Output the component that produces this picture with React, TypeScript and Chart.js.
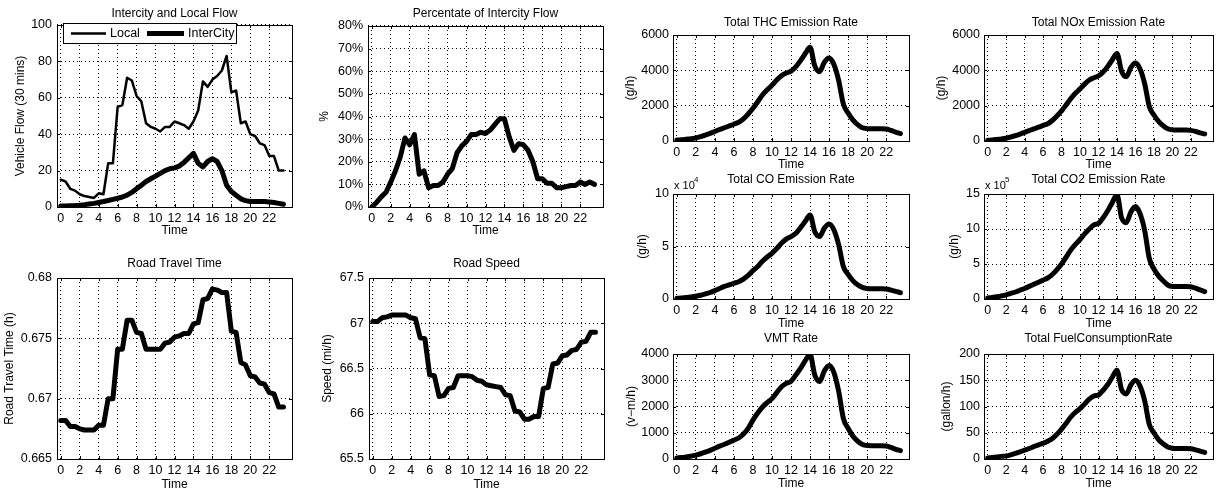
import React, { useEffect, useRef } from 'react';
import { Chart, registerables } from 'chart.js';

Chart.register(...registerables);

const FONT = '"Liberation Sans", Arial, Helvetica, sans-serif';

// ---------- data ----------
const hours = [0, 0.5, 1, 1.5, 2, 2.5, 3, 3.5, 4, 4.5, 5, 5.5, 6, 6.5, 7, 7.5, 8, 8.5, 9, 9.5, 10, 10.5, 11, 11.5, 12, 12.5, 13, 13.5, 14, 14.5, 15, 15.5, 16, 16.5, 17, 17.5, 18, 18.5, 19, 19.5, 20, 20.5, 21, 21.5, 22, 22.5, 23, 23.5];
const xTickValues = [0, 2, 4, 6, 8, 10, 12, 14, 16, 18, 20, 22];

const localFlow = [15, 14, 10, 9, 7, 6, 5.5, 5, 7.5, 7, 24, 24, 55, 56, 71, 69.5, 61, 58, 46, 44, 43, 41.5, 44, 44, 47, 46, 45, 43, 47, 53, 69, 66, 70, 72, 75, 83, 63, 64, 46, 47, 40, 39, 35, 34, 28, 28, 20, 20];
const intercityFlow = [0.5, 0.5, 0.7, 0.8, 1, 1.3, 1.7, 2, 2.5, 3, 3.6, 4.2, 4.8, 5.5, 6.5, 8, 10, 12, 14, 15.5, 17, 18.5, 20, 21, 21.5, 22.5, 24.5, 27, 29.5, 24, 22, 25, 26.5, 25, 20, 12, 8.5, 6.5, 4.5, 3.5, 3, 3, 3, 3, 2.8, 2.5, 2, 1.5];
const intercityPct = [0, 2, 4.5, 6.5, 11, 16, 22, 30.5, 27.5, 32, 14.5, 16, 8.5, 9.5, 9.5, 11, 14.5, 17, 24, 27, 29, 32, 32, 33, 32.5, 34, 36.5, 39, 39, 31, 25, 28, 27.5, 25, 20, 12.5, 12.5, 10.5, 10.5, 8.5, 8.5, 9, 9.5, 9.5, 11, 10, 11, 10];
const travelTime = [0.6682, 0.6682, 0.6677, 0.6677, 0.6675, 0.6674, 0.6674, 0.6674, 0.6678, 0.6678, 0.67, 0.67, 0.6741, 0.6741, 0.6765, 0.6765, 0.6755, 0.6754, 0.6741, 0.6741, 0.6741, 0.6741, 0.6746, 0.6747, 0.6751, 0.6752, 0.6754, 0.6754, 0.6762, 0.6763, 0.6782, 0.6783, 0.6791, 0.679, 0.6788, 0.6788, 0.6756, 0.6755, 0.673, 0.6728, 0.6719, 0.6718, 0.6713, 0.6712, 0.6705, 0.6704, 0.6693, 0.6693];
const roadSpeed = [67.02, 67.02, 67.06, 67.07, 67.09, 67.09, 67.09, 67.09, 67.06, 67.05, 66.84, 66.83, 66.43, 66.42, 66.19, 66.2, 66.28, 66.29, 66.42, 66.42, 66.42, 66.41, 66.37, 66.36, 66.32, 66.31, 66.3, 66.29, 66.21, 66.2, 66.03, 66.02, 65.94, 65.94, 65.97, 65.97, 66.28, 66.29, 66.55, 66.56, 66.64, 66.65, 66.7, 66.71, 66.79, 66.8, 66.9, 66.9];
const thcRate = [50, 70, 100, 130, 180, 250, 330, 430, 540, 650, 750, 850, 950, 1060, 1250, 1530, 1850, 2220, 2600, 2900, 3150, 3450, 3700, 3850, 3950, 4200, 4550, 4950, 5300, 4250, 3920, 4450, 4700, 4350, 3450, 2100, 1580, 1200, 930, 750, 700, 690, 690, 690, 680, 600, 500, 420];
const noxRate = [40, 60, 90, 120, 160, 225, 300, 390, 490, 590, 690, 780, 880, 980, 1160, 1420, 1700, 2050, 2400, 2700, 2950, 3220, 3450, 3580, 3680, 3900, 4220, 4600, 4950, 3950, 3640, 4150, 4420, 4080, 3250, 1950, 1470, 1110, 860, 690, 630, 620, 620, 620, 600, 540, 460, 400];
const coRate = [700, 1000, 1400, 1900, 2600, 3600, 4800, 6200, 8000, 10000, 12000, 13500, 15000, 16500, 19000, 22500, 27000, 31000, 36000, 40000, 43500, 48000, 53000, 57000, 59500, 62500, 68000, 74000, 80000, 64000, 59500, 67500, 71500, 66000, 52000, 31000, 23500, 17500, 13500, 11000, 10000, 9800, 9800, 9800, 9600, 8500, 7200, 6000];
const co2Rate = [15000, 22000, 32000, 45000, 60000, 80000, 100000, 125000, 150000, 180000, 210000, 240000, 270000, 300000, 350000, 420000, 500000, 600000, 700000, 780000, 850000, 930000, 1000000, 1060000, 1080000, 1160000, 1260000, 1380000, 1490000, 1160000, 1090000, 1240000, 1320000, 1220000, 980000, 580000, 430000, 330000, 260000, 200000, 180000, 178000, 178000, 178000, 175000, 155000, 130000, 105000];
const vmtRate = [40, 55, 80, 110, 150, 200, 260, 330, 410, 490, 560, 640, 720, 800, 950, 1170, 1480, 1750, 1980, 2150, 2300, 2530, 2750, 2880, 2960, 3200, 3450, 3750, 3980, 3200, 2950, 3350, 3560, 3300, 2600, 1550, 1170, 880, 680, 550, 510, 505, 505, 505, 495, 440, 370, 320];
const fuelRate = [2, 3, 4, 5, 6, 8, 10.5, 13.5, 17, 20, 23.5, 27, 30, 34, 39, 47, 57, 68, 80, 89, 96, 105, 114, 120, 122, 131, 142, 156, 169, 132, 124, 141, 150, 139, 111, 66, 50, 37, 29, 23, 20.5, 20, 20, 20, 19.5, 17.5, 15, 12.5];

const flowTicks = [0, 20, 40, 60, 80, 100];
const pctTicks = [0, 10, 20, 30, 40, 50, 60, 70, 80];
const travelTicks = [0.665, 0.67, 0.675, 0.68];
const speedTicks = [65.5, 66, 66.5, 67, 67.5];
const gramTicks = [0, 2000, 4000, 6000];
const coTicks = [0, 50000, 100000];
const co2Ticks = [0, 500000, 1000000, 1500000];
const vmtTicks = [0, 1000, 2000, 3000, 4000];
const fuelTicks = [0, 50, 100, 150, 200];

// ---------- layout constants ----------
const YW = 60;
const XH = 36;
const RP = 6;
const X_MIN = -0.4;
const X_MAX = 24.4;

type Series = { label: string; values: number[]; width: number; smooth?: boolean };
type Panel = {
  key: string;
  L: number; T: number; R: number; B: number;
  titleY: number; title: string;
  yLabel: string; yOff: number; xOff: number;
  yTicks: number[]; fmt: (v: number) => string;
  series: Series[];
  legend?: boolean; exponent?: string; tickPad?: number;
};

const num = (v: number) => String(parseFloat(v.toFixed(4)));

const panels: Panel[] = [
  { key: 'flow', L: 57, T: 25, R: 292, B: 207, titleY: 13.3, title: 'Intercity and Local Flow', yLabel: 'Vehicle Flow (30 mins)', yOff: 36, xOff: 24, yTicks: flowTicks, fmt: num,
    series: [{ label: 'Local', values: localFlow, width: 2.5 }, { label: 'InterCity', values: intercityFlow, width: 5 }], legend: true, tickPad: 5 },
  { key: 'pct', L: 368, T: 26, R: 603, B: 207, titleY: 13.3, title: 'Percentate of Intercity Flow', yLabel: '%', yOff: 43, xOff: 24, yTicks: pctTicks, fmt: (v) => `${v}%`,
    series: [{ label: 'pct', values: intercityPct, width: 5 }], tickPad: 5 },
  { key: 'tt', L: 57, T: 278, R: 292, B: 459, titleY: 264, title: 'Road Travel Time', yLabel: 'Road Travel Time (h)', yOff: 47, xOff: 25.5, yTicks: travelTicks, fmt: num,
    series: [{ label: 'tt', values: travelTime, width: 5 }], tickPad: 5 },
  { key: 'spd', L: 369, T: 278, R: 604, B: 459, titleY: 264, title: 'Road Speed', yLabel: 'Speed (mi/h)', yOff: 41, xOff: 25.5, yTicks: speedTicks, fmt: num,
    series: [{ label: 'spd', values: roadSpeed, width: 5 }], tickPad: 5 },
  { key: 'thc', L: 673, T: 35, R: 909, B: 141, titleY: 22.7, title: 'Total THC Emission Rate', yLabel: '(g/h)', yOff: 42, xOff: 24, yTicks: gramTicks, fmt: num,
    series: [{ label: 'thc', values: thcRate, width: 5, smooth: true }] },
  { key: 'nox', L: 984, T: 35, R: 1213, B: 141, titleY: 22.7, title: 'Total NOx Emission Rate', yLabel: '(g/h)', yOff: 42, xOff: 24, yTicks: gramTicks, fmt: num,
    series: [{ label: 'nox', values: noxRate, width: 5, smooth: true }] },
  { key: 'co', L: 673, T: 194, R: 909, B: 299, titleY: 180, title: 'Total CO Emission Rate', yLabel: '(g/h)', yOff: 30, xOff: 25, yTicks: coTicks, fmt: (v) => num(v / 1e4),
    series: [{ label: 'co', values: coRate, width: 5, smooth: true }], exponent: '4' },
  { key: 'co2', L: 984, T: 194, R: 1213, B: 299, titleY: 180, title: 'Total CO2 Emission Rate', yLabel: '(g/h)', yOff: 29, xOff: 25, yTicks: co2Ticks, fmt: (v) => num(v / 1e5),
    series: [{ label: 'co2', values: co2Rate, width: 5, smooth: true }], exponent: '5' },
  { key: 'vmt', L: 673, T: 354, R: 909, B: 459, titleY: 339, title: 'VMT Rate', yLabel: '(v\u2212m/h)', yOff: 41.6, xOff: 24.3, yTicks: vmtTicks, fmt: num,
    series: [{ label: 'vmt', values: vmtRate, width: 5, smooth: true }] },
  { key: 'fuel', L: 984, T: 354, R: 1213, B: 459, titleY: 339, title: 'Total FuelConsumptionRate', yLabel: '(gallon/h)', yOff: 37, xOff: 24.3, yTicks: fuelTicks, fmt: num,
    series: [{ label: 'fuel', values: fuelRate, width: 5, smooth: true }] },
];

// ---------- decoration plugin (box, inner ticks, legend, exponent) ----------
const matlabBox = {
  id: 'matlabBox',
  afterDatasetsDraw(chart: any, _args: any, opts: any) {
    const { ctx, chartArea } = chart;
    const { left, top, right, bottom } = chartArea;
    ctx.save();
    ctx.strokeStyle = '#000';
    ctx.lineWidth = 1;
    ctx.setLineDash([]);
    ctx.strokeRect(left + 0.5, top + 0.5, right - left, bottom - top);
    const xs = chart.scales.x;
    const ys = chart.scales.y;
    ctx.beginPath();
    xs.ticks.forEach((t: any) => {
      const px = Math.round(xs.getPixelForValue(t.value)) + 0.5;
      ctx.moveTo(px, bottom); ctx.lineTo(px, bottom - 3);
      ctx.moveTo(px, top); ctx.lineTo(px, top + 3);
    });
    ys.ticks.forEach((t: any) => {
      const py = Math.round(ys.getPixelForValue(t.value)) + 0.5;
      ctx.moveTo(left, py); ctx.lineTo(left + 3, py);
      ctx.moveTo(right, py); ctx.lineTo(right - 3, py);
    });
    ctx.stroke();

    if (opts && opts.legend) {
      const bx = left + 6, by = top - 2, bw = 173, bh = 20;
      ctx.fillStyle = '#fff';
      ctx.fillRect(bx, by, bw, bh);
      ctx.strokeRect(bx + 0.5, by + 0.5, bw, bh);
      const cy = by + bh / 2 + 0.5;
      ctx.lineCap = 'butt';
      ctx.lineWidth = 2.5;
      ctx.beginPath(); ctx.moveTo(left + 14, cy); ctx.lineTo(left + 49, cy); ctx.stroke();
      ctx.lineWidth = 5;
      ctx.beginPath(); ctx.moveTo(left + 90, cy); ctx.lineTo(left + 127, cy); ctx.stroke();
      ctx.fillStyle = '#000';
      ctx.font = `12.5px ${FONT}`;
      ctx.textBaseline = 'middle';
      ctx.textAlign = 'left';
      ctx.fillText(chart.data.datasets[0].label, left + 53, cy);
      ctx.fillText(chart.data.datasets[1].label, left + 131, cy);
    }
    if (opts && opts.exponent) {
      ctx.fillStyle = '#000';
      ctx.textAlign = 'left';
      ctx.textBaseline = 'alphabetic';
      ctx.font = `11px ${FONT}`;
      ctx.fillText('x 10', left + 1, top - 5);
      ctx.font = `8px ${FONT}`;
      ctx.fillText(opts.exponent, left + 21, top - 12);
    }
    ctx.restore();
  },
};

function PanelChart({ p }: { p: Panel }) {
  const ref = useRef<HTMLCanvasElement>(null);
  const cTop = Math.round(p.titleY - 9.2);
  const TH = p.T - cTop;
  const cLeft = p.L - YW;
  const width = p.R - p.L + YW + RP;
  const height = p.B - p.T + TH + XH;

  useEffect(() => {
    if (!ref.current) return;
    const titlePadTop = p.titleY - 7.2 - cTop;
    const titlePadBottom = TH - titlePadTop - 14.4;
    const tickFont = { family: FONT, size: 12.5 };
    const chart = new Chart(ref.current, {
      type: 'line',
      data: {
        datasets: p.series.map((s) => ({
          label: s.label,
          data: hours.map((h, i) => ({ x: h, y: s.values[i] })),
          borderColor: '#000',
          backgroundColor: '#000',
          borderWidth: s.width,
          pointRadius: 0,
          fill: false,
          tension: 0,
          cubicInterpolationMode: s.smooth ? 'monotone' : 'default',
          borderJoinStyle: 'round',
          borderCapStyle: 'round',
        })),
      },
      options: {
        animation: false,
        responsive: false,
        devicePixelRatio: 1,
        events: [],
        layout: { padding: { left: 0, top: 0, right: RP, bottom: 0 } },
        plugins: {
          legend: { display: false },
          tooltip: { enabled: false },
          title: {
            display: true,
            fullSize: false,
            text: p.title,
            color: '#000',
            font: { family: FONT, size: 12, weight: 'normal' },
            padding: { top: titlePadTop, bottom: titlePadBottom },
          },
          matlabBox: { legend: !!p.legend, exponent: p.exponent },
        } as any,
        scales: {
          x: {
            type: 'linear',
            min: X_MIN,
            max: X_MAX,
            afterBuildTicks: (axis: any) => { axis.ticks = xTickValues.map((v) => ({ value: v })); },
            afterFit: (s: any) => { s.height = XH; },
            ticks: { autoSkip: false, maxRotation: 0, padding: 4, color: '#000', font: tickFont, callback: (v: any) => num(Number(v)) },
            grid: { color: '#000', lineWidth: 1, drawTicks: false },
            border: { display: false, dash: [1, 3] },
            title: { display: true, text: 'Time', color: '#000', font: { family: FONT, size: 12 }, padding: { top: 0, bottom: XH - p.xOff - 7.2 } },
          },
          y: {
            type: 'linear',
            min: p.yTicks[0],
            max: p.yTicks[p.yTicks.length - 1],
            afterBuildTicks: (axis: any) => { axis.ticks = p.yTicks.map((v) => ({ value: v })); },
            afterFit: (s: any) => { s.width = YW; },
            ticks: { autoSkip: false, padding: p.tickPad ?? 4, color: '#000', font: tickFont, callback: (v: any) => p.fmt(Number(v)) },
            grid: { color: '#000', lineWidth: 1, drawTicks: false },
            border: { display: false, dash: [1, 3] },
            title: { display: true, text: p.yLabel, color: '#000', font: { family: FONT, size: 12 }, padding: { top: YW - p.yOff - 7.2, bottom: 0 } },
          },
        },
      } as any,
      plugins: [matlabBox as any],
    });
    return () => chart.destroy();
  }, []);

  return (
    <canvas
      ref={ref}
      width={width}
      height={height}
      style={{ position: 'absolute', left: cLeft, top: cTop, width, height }}
    />
  );
}

export default function App() {
  return (
    <div style={{ position: 'absolute', left: 0, top: 0, width: 1225, height: 494, background: '#fff', overflow: 'hidden' }}>
      {panels.map((p) => (
        <PanelChart key={p.key} p={p} />
      ))}
    </div>
  );
}
